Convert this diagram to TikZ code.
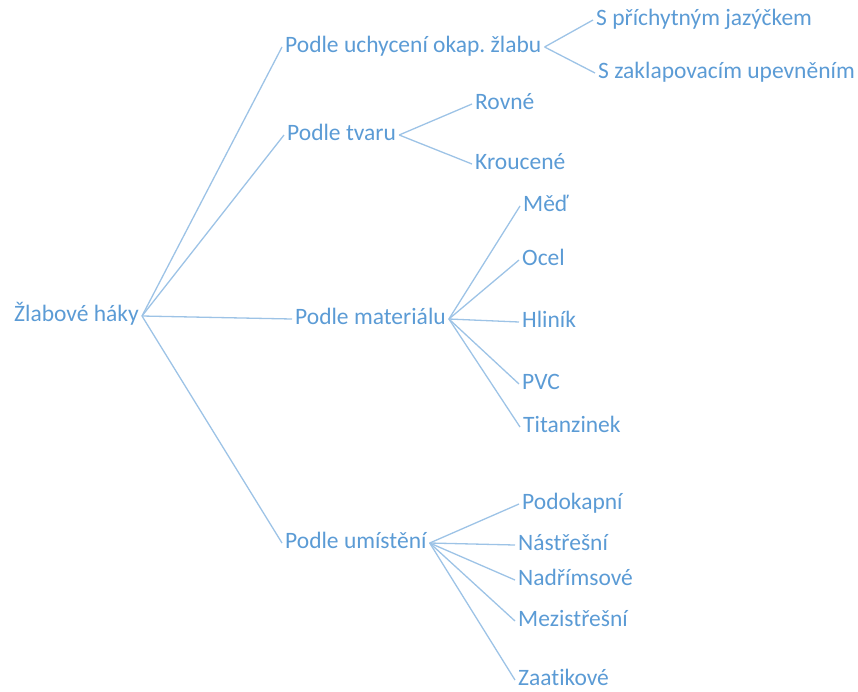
\documentclass[tikz,border=0pt]{standalone}
\usepackage{fontspec}
\setmainfont[Ligatures=NoCommon]{Carlito}
\definecolor{txtblue}{HTML}{5B9BD5}
\definecolor{lineblue}{HTML}{9DC3E6}
\frenchspacing

\begin{document}
\begin{tikzpicture}[x=1pt, y=-1pt,
  label/.style={anchor=west, text=txtblue, font=\fontsize{23.5}{28}\selectfont,
    inner sep=3pt, text height=16pt, text depth=4.5pt},
  branch/.style={draw=lineblue, line width=1.3pt}]
\useasboundingbox (0,0) rectangle (858,691);

% root and first level
\node[label] (root) at (11,316) {Žlabové háky};
\node[label] (uch) at (282,47) {Podle uchycení okap. žlabu};
\node[label] (tvar) at (284,135) {Podle tvaru};
\node[label] (mat) at (292,319) {Podle materiálu};
\node[label] (um) at (282,543) {Podle umístění};

\draw[branch] (root.east) -- (uch.west);
\draw[branch] (root.east) -- (tvar.west);
\draw[branch] (root.east) -- (mat.west);
\draw[branch] (root.east) -- (um.west);

% Podle uchycení
\node[label] (prich) at (593,20) {S příchytným jazýčkem};
\node[label] (zakl) at (595,73) {S zaklapovacím upevněním};
\draw[branch] (uch.east) -- (prich.west);
\draw[branch] (uch.east) -- (zakl.west);

% Podle tvaru
\node[label] (rovne) at (472,104) {Rovné};
\node[label] (krouc) at (472,164) {Kroucené};
\draw[branch] (tvar.east) -- (rovne.west);
\draw[branch] (tvar.east) -- (krouc.west);

% Podle materiálu
\node[label] (med) at (520,206) {Měď};
\node[label] (ocel) at (519,260) {Ocel};
\node[label] (hlinik) at (519,322) {Hliník};
\node[label] (pvc) at (519,384) {PVC};
\node[label] (titan) at (520,427) {Titanzinek};
\foreach \n in {med, ocel, hlinik, pvc, titan}
  \draw[branch] (mat.east) -- (\n.west);

% Podle umístění
\node[label] (podok) at (519,504) {Podokapní};
\node[label] (nastr) at (515,545) {Nástřešní};
\node[label] (nadr) at (515,580) {Nadřímsové};
\node[label] (mezi) at (515,621) {Mezistřešní};
\node[label] (zaat) at (515,680) {Zaat\kern0pt ikové};
\foreach \n in {podok, nastr, nadr, mezi, zaat}
  \draw[branch] (um.east) -- (\n.west);
\end{tikzpicture}
\end{document}
